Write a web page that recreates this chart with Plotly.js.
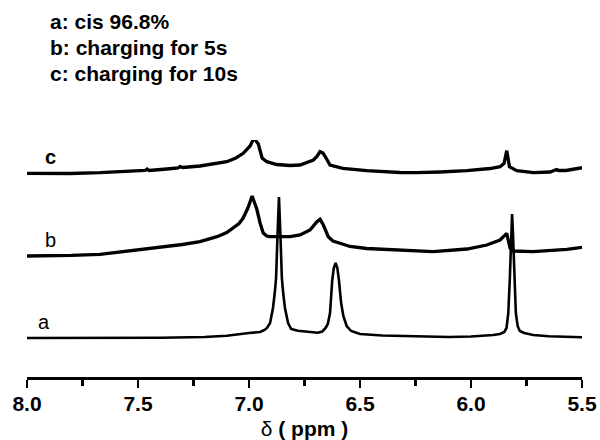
<!DOCTYPE html>
<html>
<head>
<meta charset="utf-8">
<script src="https://cdn.plot.ly/plotly-3.0.1.min.js"></script>
<style>html,body{margin:0;padding:0;background:#fff;}#chart{width:600px;height:440px;}</style>
</head>
<body>
<div id="chart"></div>
<script>
// Chemical shift (ppm) and intensity readings for each spectrum (relative to its own baseline)
const aPpm = [8.00,7.80,7.60,7.40,7.20,7.10,7.00,6.95,6.93,6.919,6.905,6.892,6.884,6.878,6.872,6.865,6.858,6.852,6.846,6.838,6.824,6.81,6.78,6.75,6.72,6.69,6.67,6.655,6.645,6.635,6.625,6.618,6.61,6.602,6.595,6.585,6.575,6.56,6.54,6.50,6.40,6.30,6.20,6.10,6.00,5.95,5.90,5.87,5.85,5.84,5.832,5.825,5.819,5.815,5.811,5.805,5.798,5.79,5.78,5.76,5.72,5.65,5.50];
const aVal = [0,0,0,0.3,1,2.3,5,6,8,10,15,30,45,60,100,141,100,60,45,30,15,9,7.3,6.5,6,5.3,6.5,10,14,25,58,70,75,70,58,35,22,12,7,4,2.5,2,1.3,1,1.5,2,3,4,6,10,25,60,105,124,105,60,25,12,7,5,3,1.7,0.7];

const bPpm = [8.00,7.90,7.80,7.671,7.60,7.523,7.45,7.369,7.30,7.221,7.144,7.10,7.072,7.045,7.027,7.005,6.986,6.965,6.950,6.936,6.920,6.905,6.815,6.770,6.725,6.695,6.680,6.665,6.643,6.622,6.590,6.545,6.470,6.320,6.171,6.018,5.929,5.869,5.839,5.824,5.809,5.721,5.568,5.50];
const bVal = [0,0.2,0.6,1.7,3.5,6,7.5,9.3,11.5,14.3,19.3,23.5,27.7,32.5,37.7,48,60,47,33,23,20,19.3,19.3,21,26,34,36.7,31,19.3,15,12.7,9.5,7.5,5.5,4.3,7,11,16,22.7,8,5,4.3,6.7,8.7];

const cPpm = [8.00,7.806,7.671,7.536,7.468,7.459,7.450,7.369,7.320,7.311,7.297,7.221,7.153,7.100,7.059,7.026,6.995,6.984,6.976,6.968,6.958,6.950,6.941,6.920,6.875,6.815,6.770,6.710,6.694,6.680,6.667,6.658,6.635,6.577,6.470,6.320,6.245,6.140,6.019,5.914,5.869,5.851,5.844,5.839,5.834,5.827,5.794,5.719,5.644,5.614,5.604,5.572,5.50];
const cVal = [1.7,1.5,2.3,3.5,4.5,6,4.5,6,7,8.5,7.5,9,11,13.3,17,21.7,29,34,42,34,31,24,17,13.3,10.5,9.5,10,15,18.5,23.3,22,19,10,6.7,4.3,2.5,2.3,3,4.3,6.5,8.3,11.7,20,24.3,18,8.3,4.3,2.3,3,5.5,4.5,4.5,7.3];

const seriesNames = ['a','b','c'];
const xTicks = [8.0,7.5,7.0,6.5,6.0,5.5];
const xTickText = ['8.0','7.5','7.0','6.5','6.0','5.5'];
const legendLines = ['a: cis 96.8%','b: charging for 5s','c: charging for 10s'];

// vertical stacking offsets (layout)
const offsets = [0, 82, 163];
const FONT = 'Liberation Sans, Arial, Helvetica, sans-serif';

const data = [
  {x: aPpm, y: aVal.map(v => v + offsets[0]), widthL: 2.6},
  {x: bPpm, y: bVal.map(v => v + offsets[1]), widthL: 3.3},
  {x: cPpm, y: cVal.map(v => v + offsets[2]), widthL: 3.3}
].map((d, i) => ({
  x: d.x, y: d.y, type: 'scatter', mode: 'lines', name: seriesNames[i],
  line: {color: '#000', width: d.widthL}, hoverinfo: 'skip'
}));

const annotations = [];
legendLines.forEach((t, i) => {
  annotations.push({
    xref: 'paper', yref: 'paper', x: 0.0378, y: 1.50 - i * 0.109,
    xanchor: 'left', yanchor: 'middle', showarrow: false,
    text: '<b>' + t + '</b>', font: {family: FONT, size: 21, color: '#000'}
  });
});
const labelPos = [[7.923, 16, false], [7.896, 98, false], [7.896, 181, true]];
seriesNames.forEach((n, i) => {
  annotations.push({
    xref: 'x', yref: 'y', x: labelPos[i][0], y: labelPos[i][1],
    xanchor: 'center', yanchor: 'middle', showarrow: false,
    text: labelPos[i][2] ? '<b>' + n + '</b>' : n,
    font: {family: FONT, size: 20, color: '#000'}
  });
});

const layout = {
  width: 600, height: 440,
  margin: {l: 27, r: 18, t: 140, b: 63},
  paper_bgcolor: '#fff', plot_bgcolor: '#fff',
  showlegend: false,
  font: {family: FONT, color: '#000'},
  xaxis: {
    range: [8.0, 5.5], showgrid: false, zeroline: false,
    showline: true, linecolor: '#000', linewidth: 3,
    ticks: 'outside', ticklen: 8, tickwidth: 2.5, tickcolor: '#000',
    tickvals: xTicks, ticktext: xTickText, ticklabelstandoff: -2,
    tickfont: {family: FONT, size: 21, weight: 'bold', color: '#000'},
    minor: {dtick: 0.25, ticks: 'outside', ticklen: 6, tickwidth: 2.5, tickcolor: '#000', showgrid: false},
    automargin: false,
    title: {text: 'δ <b>( ppm )</b>', font: {family: FONT, size: 21, color: '#000'}, standoff: 10}
  },
  yaxis: {range: [-39, 198], visible: false, showgrid: false, zeroline: false},
  annotations: annotations
};

Plotly.newPlot('chart', data, layout, {staticPlot: true, displayModeBar: false});
</script>
</body>
</html>
